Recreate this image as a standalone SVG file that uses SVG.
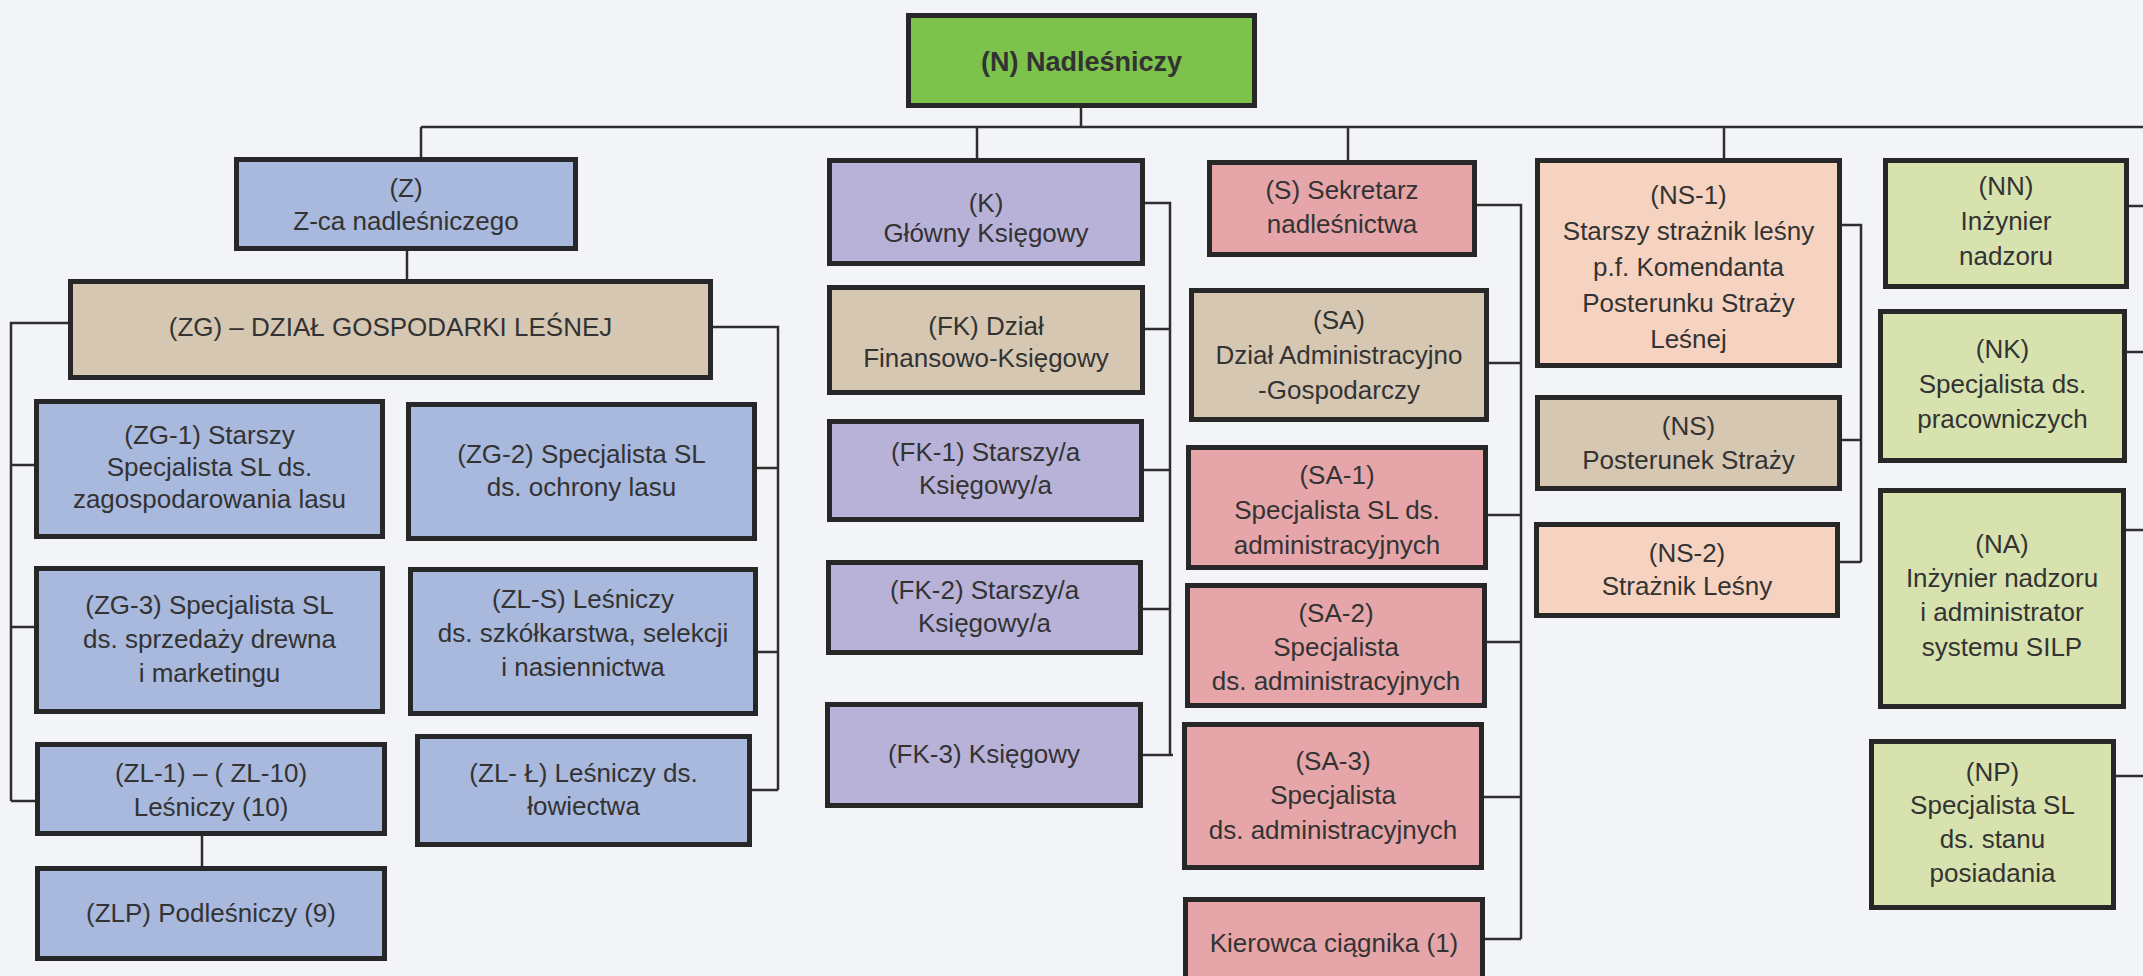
<svg xmlns="http://www.w3.org/2000/svg" width="2143" height="976" viewBox="0 0 2143 976">
<style>
.b{stroke:#272727;stroke-width:5}
.g{fill:#7dc24b}.bl{fill:#a9b8dd}.tn{fill:#d6c7b2}.pu{fill:#b9b2d8}.pk{fill:#e6a6a9}.pc{fill:#f6d3c1}.lg{fill:#d7e2ae}
.t{font-family:"Liberation Sans",Arial,sans-serif;font-size:26px;fill:#333;text-anchor:middle}
.tb{font-weight:bold;font-size:27px}
.c{fill:none;stroke:#2e2e2e;stroke-width:2.5}
</style>
<rect width="2143" height="976" fill="#f3f4f8"/>
<g id="connectors">
<path class="c" d="M1081 108V127M421 127H2143M421 127V157M977 127V158M1348 127V160M1724 127V158"/>
<path class="c" d="M407 251V279M68 323H11V801M11 465H34M11 627H34M11 801H35M713 327H778V790M778 468H757M778 652H758M778 790H752M202 836V866"/>
<path class="c" d="M1145 203H1170V755M1170 329H1145M1170 470H1144M1170 609H1143M1173 755H1143"/>
<path class="c" d="M1477 205H1521V939M1521 363H1489M1521 515H1488M1521 642H1487M1521 797H1484M1521 939H1485"/>
<path class="c" d="M1842 225H1861V562M1861 440H1842M1861 562H1840"/>
<path class="c" d="M2129 206H2143M2127 352H2143M2126 530H2143M2116 776H2143"/>
</g>
<g id="N"><rect class="b g" x="908.5" y="15.5" width="346" height="90"/><text class="t tb" x="1081.5" y="71">(N) Nadleśniczy</text></g>
<g id="Z"><rect class="b bl" x="236.5" y="159.5" width="339" height="89"/><text class="t"><tspan x="406" y="197">(Z)</tspan><tspan x="406" y="230">Z-ca nadleśniczego</tspan></text></g>
<g id="ZG"><rect class="b tn" x="70.5" y="281.5" width="640" height="96"/><text class="t" x="390.5" y="336">(ZG) – DZIAŁ GOSPODARKI LEŚNEJ</text></g>
<g id="ZG-1"><rect class="b bl" x="36.5" y="401.5" width="346" height="135"/><text class="t"><tspan x="209.5" y="444">(ZG-1) Starszy</tspan><tspan x="209.5" y="476">Specjalista SL ds.</tspan><tspan x="209.5" y="508">zagospodarowania lasu</tspan></text></g>
<g id="ZG-2"><rect class="b bl" x="408.5" y="404.5" width="346" height="134"/><text class="t"><tspan x="581.5" y="463">(ZG-2) Specjalista SL</tspan><tspan x="581.5" y="496">ds. ochrony lasu</tspan></text></g>
<g id="ZG-3"><rect class="b bl" x="36.5" y="568.5" width="346" height="143"/><text class="t"><tspan x="209.5" y="614">(ZG-3) Specjalista SL</tspan><tspan x="209.5" y="648">ds. sprzedaży drewna</tspan><tspan x="209.5" y="682">i marketingu</tspan></text></g>
<g id="ZL-S"><rect class="b bl" x="410.5" y="569.5" width="345" height="144"/><text class="t"><tspan x="583" y="608">(ZL-S) Leśniczy</tspan><tspan x="583" y="642">ds. szkółkarstwa, selekcji</tspan><tspan x="583" y="676">i nasiennictwa</tspan></text></g>
<g id="ZL-1"><rect class="b bl" x="37.5" y="744.5" width="347" height="89"/><text class="t"><tspan x="211" y="782">(ZL-1) – ( ZL-10)</tspan><tspan x="211" y="816">Leśniczy (10)</tspan></text></g>
<g id="ZL-L"><rect class="b bl" x="417.5" y="736.5" width="332" height="108"/><text class="t"><tspan x="583.5" y="782">(ZL- Ł) Leśniczy ds.</tspan><tspan x="583.5" y="815">łowiectwa</tspan></text></g>
<g id="ZLP"><rect class="b bl" x="37.5" y="868.5" width="347" height="90"/><text class="t" x="211" y="922">(ZLP) Podleśniczy (9)</text></g>
<g id="K"><rect class="b pu" x="829.5" y="160.5" width="313" height="103"/><text class="t"><tspan x="986" y="212">(K)</tspan><tspan x="986" y="242">Główny Księgowy</tspan></text></g>
<g id="FK"><rect class="b tn" x="829.5" y="287.5" width="313" height="105"/><text class="t"><tspan x="986" y="335">(FK) Dział</tspan><tspan x="986" y="367">Finansowo-Księgowy</tspan></text></g>
<g id="FK-1"><rect class="b pu" x="829.5" y="421.5" width="312" height="98"/><text class="t"><tspan x="985.5" y="461">(FK-1) Starszy/a</tspan><tspan x="985.5" y="494">Księgowy/a</tspan></text></g>
<g id="FK-2"><rect class="b pu" x="828.5" y="562.5" width="312" height="90"/><text class="t"><tspan x="984.5" y="599">(FK-2) Starszy/a</tspan><tspan x="984.5" y="632">Księgowy/a</tspan></text></g>
<g id="FK-3"><rect class="b pu" x="827.5" y="704.5" width="313" height="101"/><text class="t" x="984" y="763">(FK-3) Księgowy</text></g>
<g id="S"><rect class="b pk" x="1209.5" y="162.5" width="265" height="92"/><text class="t"><tspan x="1342" y="199">(S) Sekretarz</tspan><tspan x="1342" y="233">nadleśnictwa</tspan></text></g>
<g id="SA"><rect class="b tn" x="1191.5" y="290.5" width="295" height="129"/><text class="t"><tspan x="1339" y="329">(SA)</tspan><tspan x="1339" y="364">Dział Administracyjno</tspan><tspan x="1339" y="399">-Gospodarczy</tspan></text></g>
<g id="SA-1"><rect class="b pk" x="1188.5" y="447.5" width="297" height="120"/><text class="t"><tspan x="1337" y="484">(SA-1)</tspan><tspan x="1337" y="519">Specjalista SL ds.</tspan><tspan x="1337" y="554">administracyjnych</tspan></text></g>
<g id="SA-2"><rect class="b pk" x="1187.5" y="585.5" width="297" height="120"/><text class="t"><tspan x="1336" y="622">(SA-2)</tspan><tspan x="1336" y="656">Specjalista</tspan><tspan x="1336" y="690">ds. administracyjnych</tspan></text></g>
<g id="SA-3"><rect class="b pk" x="1184.5" y="724.5" width="297" height="143"/><text class="t"><tspan x="1333" y="770">(SA-3)</tspan><tspan x="1333" y="804">Specjalista</tspan><tspan x="1333" y="839">ds. administracyjnych</tspan></text></g>
<g id="KIER"><rect class="b pk" x="1185.5" y="899.5" width="297" height="100"/><text class="t" x="1334" y="952">Kierowca ciągnika (1)</text></g>
<g id="NS-1"><rect class="b pc" x="1537.5" y="160.5" width="302" height="205"/><text class="t"><tspan x="1688.5" y="204">(NS-1)</tspan><tspan x="1688.5" y="240">Starszy strażnik leśny</tspan><tspan x="1688.5" y="276">p.f. Komendanta</tspan><tspan x="1688.5" y="312">Posterunku Straży</tspan><tspan x="1688.5" y="348">Leśnej</tspan></text></g>
<g id="NS"><rect class="b tn" x="1537.5" y="397.5" width="302" height="91"/><text class="t"><tspan x="1688.5" y="435">(NS)</tspan><tspan x="1688.5" y="469">Posterunek Straży</tspan></text></g>
<g id="NS-2"><rect class="b pc" x="1536.5" y="524.5" width="301" height="91"/><text class="t"><tspan x="1687" y="562">(NS-2)</tspan><tspan x="1687" y="595">Strażnik Leśny</tspan></text></g>
<g id="NN"><rect class="b lg" x="1885.5" y="160.5" width="241" height="126"/><text class="t"><tspan x="2006" y="195">(NN)</tspan><tspan x="2006" y="230">Inżynier</tspan><tspan x="2006" y="265">nadzoru</tspan></text></g>
<g id="NK"><rect class="b lg" x="1880.5" y="311.5" width="244" height="149"/><text class="t"><tspan x="2002.5" y="358">(NK)</tspan><tspan x="2002.5" y="393">Specjalista ds.</tspan><tspan x="2002.5" y="428">pracowniczych</tspan></text></g>
<g id="NA"><rect class="b lg" x="1880.5" y="490.5" width="243" height="216"/><text class="t"><tspan x="2002" y="553">(NA)</tspan><tspan x="2002" y="587">Inżynier nadzoru</tspan><tspan x="2002" y="621">i administrator</tspan><tspan x="2002" y="656">systemu SILP</tspan></text></g>
<g id="NP"><rect class="b lg" x="1871.5" y="741.5" width="242" height="166"/><text class="t"><tspan x="1992.5" y="781">(NP)</tspan><tspan x="1992.5" y="814">Specjalista SL</tspan><tspan x="1992.5" y="848">ds. stanu</tspan><tspan x="1992.5" y="882">posiadania</tspan></text></g>
</svg>
